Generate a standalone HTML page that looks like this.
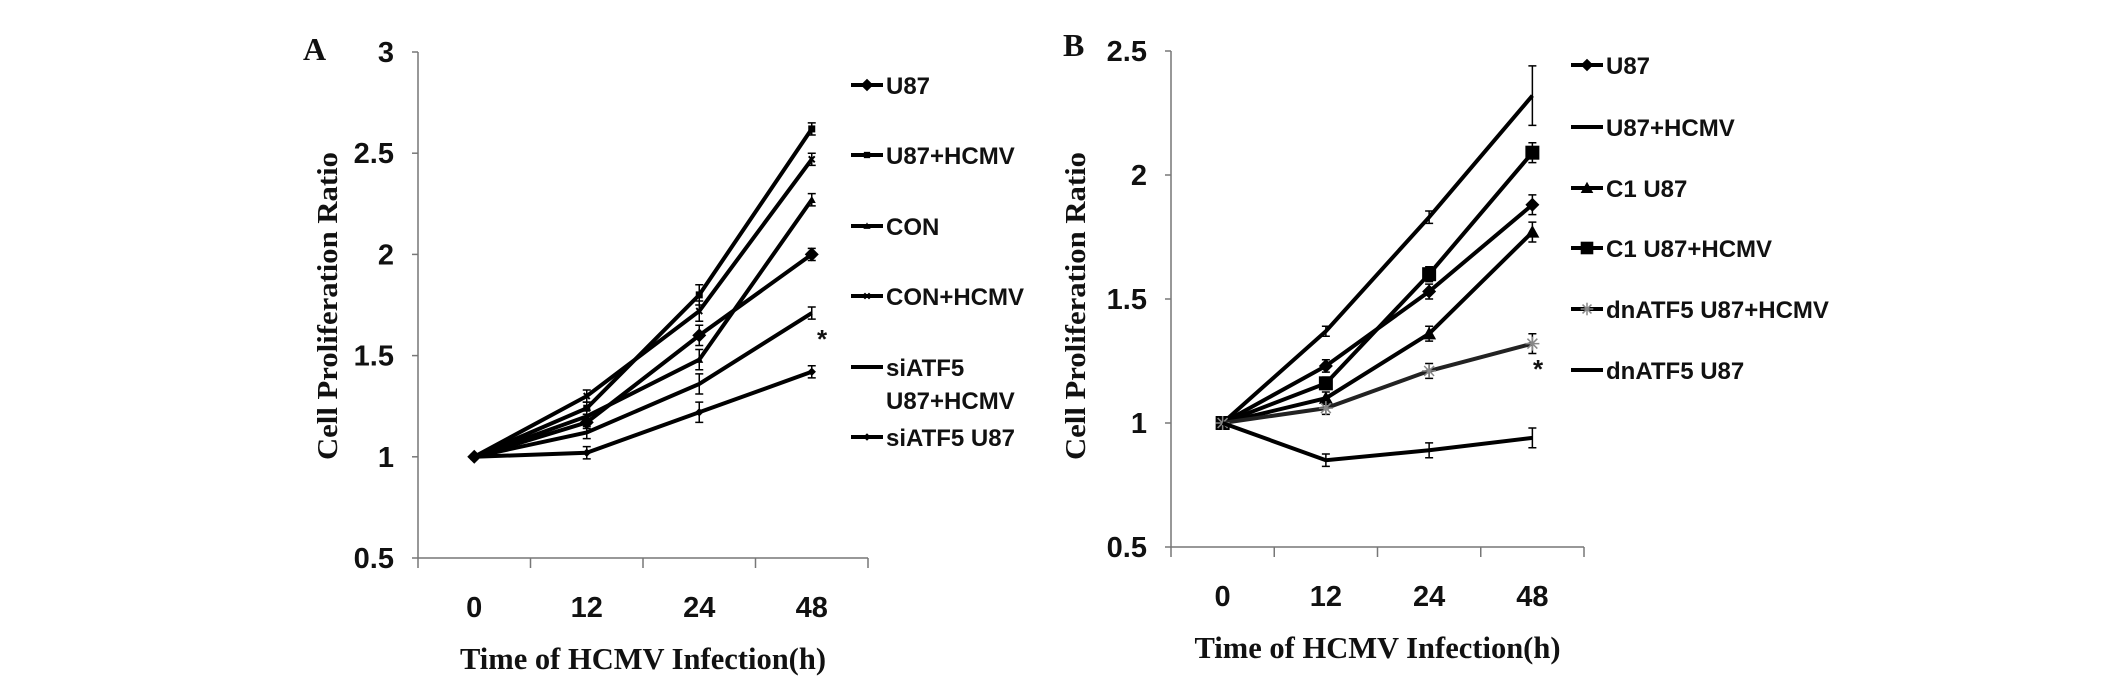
<!DOCTYPE html>
<html><head><meta charset="utf-8"><style>
html,body{margin:0;padding:0;background:#fff;}
svg{display:block;}
text{font-family:"Liberation Sans Narrow","Liberation Sans",sans-serif;font-weight:bold;fill:#111;}
.serif{font-family:"Liberation Serif",serif;font-weight:bold;}
</style></head><body>
<svg id="chart" width="2126" height="684" viewBox="0 0 2126 684" xmlns="http://www.w3.org/2000/svg"></svg>
<script>
const categories = ["0","12","24","48"];
const yTicksA = [0.5,1,1.5,2,2.5,3];
const yTicksB = [0.5,1,1.5,2,2.5];
const namesA = ["U87","U87+HCMV","CON","CON+HCMV","siATF5 U87+HCMV","siATF5 U87"];
const a_u87 = [1,1.17,1.6,2.0];
const a_u87hcmv = [1,1.24,1.8,2.62];
const a_con = [1,1.2,1.48,2.27];
const a_conhcmv = [1,1.3,1.72,2.47];
const a_siHcmv = [1,1.12,1.36,1.71];
const a_siU87 = [1,1.02,1.22,1.42];
const a_err = [0.02,0.03,0.05,0.03];
const namesB = ["U87","U87+HCMV","C1 U87","C1 U87+HCMV","dnATF5 U87+HCMV","dnATF5 U87"];
const b_u87 = [1,1.23,1.53,1.88];
const b_u87hcmv = [1,1.37,1.83,2.32];
const b_c1 = [1,1.1,1.36,1.77];
const b_c1hcmv = [1,1.16,1.6,2.09];
const b_dnHcmv = [1,1.06,1.21,1.32];
const b_dnU87 = [1,0.85,0.89,0.94];
const b_err = [0.02,0.025,0.03,0.04];
const b_errBig = [0.02,0.02,0.025,0.12];

const svg=document.getElementById('chart');
const NS='http://www.w3.org/2000/svg';
function mk(tag,attrs,parent){const e=document.createElementNS(NS,tag);for(const k in attrs)e.setAttribute(k,attrs[k]);(parent||svg).appendChild(e);return e;}

function marker(g,type,x,y,s){
  if(type==='diamond'){mk('polygon',{points:`${x},${y-s} ${x+s},${y} ${x},${y+s} ${x-s},${y}`,fill:'#000'},g);}
  else if(type==='sdiamond'){mk('polygon',{points:`${x},${y-s*0.7} ${x+s*0.7},${y} ${x},${y+s*0.7} ${x-s*0.7},${y}`,fill:'#000'},g);}
  else if(type==='square'){mk('rect',{x:x-s*0.7,y:y-s*0.7,width:s*1.4,height:s*1.4,fill:'#000'},g);}
  else if(type==='bsquare'){mk('rect',{x:x-s,y:y-s,width:s*2,height:s*2,fill:'#000'},g);}
  else if(type==='triangle'){mk('polygon',{points:`${x},${y-s} ${x+s},${y+s*0.8} ${x-s},${y+s*0.8}`,fill:'#000'},g);}
  else if(type==='xmark'){mk('path',{d:`M${x-s},${y-s} L${x+s},${y+s} M${x-s},${y+s} L${x+s},${y-s}`,stroke:'#000','stroke-width':2},g);}
  else if(type==='star'){for(const a of [0,45,90,135]){const r=a*Math.PI/180;mk('line',{x1:x-s*Math.cos(r),y1:y-s*Math.sin(r),x2:x+s*Math.cos(r),y2:y+s*Math.sin(r),stroke:'#888','stroke-width':1.5},g);}}
}

function panel(o){
  const g=mk('g',{});
  
  
  const ys=v=>o.y0-(v-o.ymin)/(o.ymax-o.ymin)*(o.y0-o.y1);
  const step=(o.x1-o.x0)/categories.length;
  const xs=i=>o.x0+step*(i+0.5);
  const ax=mk('path',{d:`M${o.x0},${o.y1} L${o.x0},${o.y0} L${o.x1},${o.y0}`,stroke:'#777','stroke-width':1.5,fill:'none'},g);
  
  
  o.yt.forEach(v=>{
    mk('line',{x1:o.x0-6,x2:o.x0,y1:ys(v),y2:ys(v),stroke:'#777','stroke-width':1.5},g);
    const t=mk('text',{x:o.x0-24,y:ys(v)+10,'text-anchor':'end','font-size':29},g);t.textContent=String(v);
    
    
  });
  for(let i=0;i<=categories.length;i++){mk('line',{x1:o.x0+step*i,x2:o.x0+step*i,y1:o.y0,y2:o.y0+10,stroke:'#777','stroke-width':1.5},g);}
  categories.forEach((c,i)=>{const t=mk('text',{x:xs(i),y:o.y0+59,'text-anchor':'middle','font-size':29},g);t.textContent=c;
    
    });
  const xt=mk('text',{x:(o.x0+o.x1)/2,y:o.y0+111,'text-anchor':'middle','font-size':31,class:'serif',textLength:o.xtLen,lengthAdjust:'spacingAndGlyphs'},g);
  xt.textContent='Time of HCMV Infection(h)';
  
  
  const yt=mk('text',{x:0,y:0,'text-anchor':'middle','font-size':29,class:'serif',transform:`translate(${o.ytx},306) rotate(-90)`,textLength:308,lengthAdjust:'spacingAndGlyphs'},g);
  yt.textContent='Cell Proliferation Ratio';
  
  
  const L=mk('text',{x:o.lx,y:o.ly,'font-size':32,class:'serif'},g);L.textContent=o.letter;
  
  
  o.series.forEach((s,si)=>{
    const sg=mk('g',{},g);
    
    
    const pts=s.v.map((v,i)=>`${xs(i)},${ys(v)}`).join(' ');
    mk('polyline',{points:pts,fill:'none',stroke:s.type==='star'?'#222':'#000','stroke-width':4},sg);
    s.v.forEach((v,i)=>{
      const e=s.err[i];
      if(i>0){mk('path',{d:`M${xs(i)},${ys(v+e)} L${xs(i)},${ys(v-e)} M${xs(i)-4},${ys(v+e)} L${xs(i)+4},${ys(v+e)} M${xs(i)-4},${ys(v-e)} L${xs(i)+4},${ys(v-e)}`,stroke:'#000','stroke-width':1.5,fill:'none'},sg);}
      marker(sg,s.type,xs(i),ys(v),s.ms);
    });
    const ly=o.legY[si];
    const lg=mk('g',{},g);
    
    
    mk('line',{x1:o.legX,x2:o.legX+32,y1:ly,y2:ly,stroke:'#000','stroke-width':4},lg);
    marker(lg,s.type,o.legX+16,ly,s.ms*0.9);
    const lines=s.legLines||[s.name];
    lines.forEach((ln,k)=>{const t=mk('text',{x:o.legX+35,y:ly+9+k*33,'font-size':24},lg);t.textContent=ln;});
  });
  const st=mk('text',{x:o.starX,y:o.starY,'font-size':26,'text-anchor':'middle'},g);st.textContent='*';
  
  
}

panel({id:'a',letter:'A',x0:418,x1:868,y0:558,y1:52,ymin:0.5,ymax:3,yt:yTicksA,ytx:337,xtLen:366,lx:303,ly:60,
  legX:851,legY:[85,155,226,296,367,437],starX:822,starY:348,
  series:[
    {name:namesA[0],v:a_u87,err:a_err,type:'diamond',ms:7},
    {name:namesA[1],v:a_u87hcmv,err:a_err,type:'square',ms:5},
    {name:namesA[2],v:a_con,err:a_err,type:'triangle',ms:4},
    {name:namesA[3],v:a_conhcmv,err:a_err,type:'xmark',ms:3},
    {name:namesA[4],v:a_siHcmv,err:a_err,type:'none',ms:0,legLines:['siATF5','U87+HCMV']},
    {name:namesA[5],v:a_siU87,err:a_err,type:'sdiamond',ms:6}
  ]});
panel({id:'b',letter:'B',x0:1171,x1:1584,y0:547,y1:51,ymin:0.5,ymax:2.5,yt:yTicksB,ytx:1085,xtLen:366,lx:1063,ly:56,
  legX:1571,legY:[65,127,188,248,309,370],starX:1538,starY:378,
  series:[
    {name:namesB[0],v:b_u87,err:b_err,type:'diamond',ms:7},
    {name:namesB[1],v:b_u87hcmv,err:b_errBig,type:'none',ms:0},
    {name:namesB[2],v:b_c1,err:b_err,type:'triangle',ms:7},
    {name:namesB[3],v:b_c1hcmv,err:b_err,type:'bsquare',ms:7},
    {name:namesB[4],v:b_dnHcmv,err:b_err,type:'star',ms:7},
    {name:namesB[5],v:b_dnU87,err:b_err,type:'none',ms:0}
  ]});
</script>
</body></html>
